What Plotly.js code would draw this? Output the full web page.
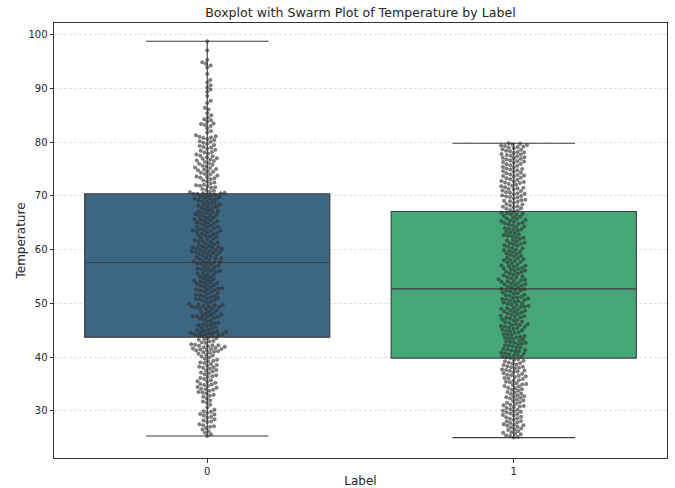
<!DOCTYPE html>
<html><head><meta charset="utf-8">
<script src="https://cdn.plot.ly/plotly-3.0.1.min.js"></script>
<style>html,body{margin:0;padding:0;background:#fff}#chart{width:675px;height:488px}</style>
</head><body><div id="chart"></div>
<script>
const categories = ['0', '1'];

const temps0 = [
  25.3, 25.6, 25.9, 26.2, 26.8, 27.0, 27.1, 27.3, 27.5, 27.9, 28.2, 28.4, 28.7, 28.9, 29.1, 29.3, 29.4, 29.6, 29.8, 29.9, 26.5, 28.0,
  30.2, 30.6, 31.1, 31.5, 31.9, 32.3, 32.6, 32.8, 33.0, 33.2, 33.5, 33.7, 33.9, 34.0, 34.1, 34.3, 34.4, 34.6, 34.8, 34.9, 31.7, 33.4,
  35.0, 35.2, 35.4, 35.5, 35.7, 35.9, 36.1, 36.3, 36.4, 36.6, 36.8, 37.0, 37.1, 37.3, 37.5, 37.6, 37.8, 38.0, 38.1, 38.2,
  38.4, 38.5, 38.7, 38.9, 39.0, 39.2, 39.3, 39.5, 39.7, 39.9,
  40.1, 40.3, 40.4, 40.6, 40.8, 40.9, 41.0, 41.1, 41.2, 41.3, 41.4, 41.5, 41.6, 41.7, 41.8, 41.9, 42.0, 42.1, 42.2, 42.3,
  42.4, 42.6, 42.7, 42.9, 43.0, 43.2, 43.3, 43.5, 43.6, 43.8, 43.9, 44.0, 44.1, 44.2, 44.3, 44.4, 44.5, 44.5, 44.6, 44.7,
  44.8, 44.9, 41.5, 42.2, 44.3,
  45.0, 45.1, 45.3, 45.4, 45.6, 45.8, 45.9, 46.1, 46.3, 46.4, 46.6, 46.8, 47.0, 47.1, 47.3, 47.4, 47.5, 47.6, 47.7, 47.8,
  47.9, 48.1, 48.2, 48.4, 48.5, 48.7, 48.9, 49.0, 49.1, 49.2, 49.3, 49.4, 49.5, 49.6, 49.7, 49.8, 49.9, 47.6, 49.4, 46.0,
  50.1, 50.3, 50.4, 50.6, 50.7, 50.9, 51.0, 51.2, 51.3, 51.5, 51.6, 51.8, 51.9, 52.1, 52.2, 52.4, 52.5, 52.6, 52.7, 52.8,
  53.0, 53.1, 53.3, 53.4, 53.6, 53.8, 53.9, 54.1, 54.2, 54.4, 54.5, 54.7, 54.9, 52.6, 50.8, 53.5, 54.0, 51.4,
  55.0, 55.2, 55.3, 55.5, 55.6, 55.8, 55.9, 56.0, 56.2, 56.3, 56.5, 56.6, 56.8, 56.9, 57.0, 57.2, 57.3, 57.4, 57.5, 57.7,
  57.8, 57.9, 58.1, 58.2, 58.3, 58.5, 58.6, 58.8, 58.9, 59.0, 59.2, 59.3, 59.4, 59.5, 59.6, 59.7, 59.8, 59.9, 59.5, 57.6, 56.1, 58.4,
  60.0, 60.1, 60.2, 60.2, 60.3, 60.4, 60.5, 60.7, 60.8, 61.0, 61.1, 61.3, 61.4, 61.6, 61.7, 61.9, 62.0, 62.2, 62.3, 62.5,
  62.6, 62.8, 63.0, 63.1, 63.3, 63.4, 63.5, 63.6, 63.7, 63.9, 64.0, 64.2, 64.3, 64.5, 64.6, 64.8, 64.9, 63.5, 61.5, 62.7, 60.6, 64.1,
  65.0, 65.1, 65.3, 65.4, 65.6, 65.7, 65.9, 66.0, 66.2, 66.3, 66.5, 66.6, 66.8, 66.9, 67.1, 67.2, 67.4, 67.5, 67.7, 67.8,
  68.0, 68.1, 68.3, 68.4, 68.6, 68.7, 68.9, 69.0, 69.2, 69.3, 69.5, 69.6, 69.7, 69.8, 69.9, 66.4, 68.2, 69.4, 67.0, 65.5,
  70.1, 70.2, 70.3, 70.4, 70.4, 70.5, 70.5, 70.6, 70.7, 70.8, 70.9, 71.1, 71.3, 71.5, 71.6, 71.8, 72.0, 72.1, 72.3, 72.5,
  72.7, 72.9, 73.1, 73.3, 73.5, 73.6, 73.8, 74.0, 74.1, 74.3, 74.5, 74.6, 74.8, 74.9, 71.9, 73.4,
  75.0, 75.2, 75.3, 75.5, 75.6, 75.8, 76.0, 76.1, 76.3, 76.5, 76.6, 76.8, 77.0, 77.2, 77.4, 77.5, 77.7, 77.9, 78.1, 78.2,
  78.4, 78.6, 78.8, 79.0, 79.1, 79.3, 79.5, 79.7, 79.9, 76.9,
  80.1, 80.2, 80.4, 80.6, 80.8, 80.9, 81.0, 81.1, 81.3, 81.8, 82.1, 82.6, 83.0, 83.2, 83.4, 83.5, 83.8, 84.1, 84.3, 84.6,
  85.0, 85.4, 86.1, 86.4, 87.3, 87.7, 88.6, 89.4, 89.8,
  90.2, 90.6, 91.1, 91.6, 92.7, 93.9, 94.3, 94.6, 94.9,
  95.3, 97.1, 98.8
];

const temps1 = [
  25.0, 25.1, 25.3, 25.4, 25.6, 25.7, 25.9, 26.0, 26.2, 26.4, 26.5, 26.7, 26.9, 27.0, 27.2, 27.3, 27.5, 27.7, 27.8, 28.0,
  28.1, 28.3, 28.5, 28.6, 28.8, 28.9, 29.1, 29.2, 29.4, 29.5, 29.7, 29.8, 29.9, 27.4,
  30.0, 30.2, 30.3, 30.5, 30.7, 30.8, 31.0, 31.1, 31.3, 31.5, 31.6, 31.8, 31.9, 32.1, 32.3, 32.4, 32.6, 32.7, 32.9, 33.1,
  33.2, 33.4, 33.5, 33.7, 33.9, 34.0, 34.2, 34.3, 34.5, 34.6, 34.8, 34.9, 32.5, 30.9,
  35.0, 35.1, 35.3, 35.4, 35.6, 35.7, 35.9, 36.0, 36.1, 36.3, 36.4, 36.6, 36.7, 36.9, 37.0, 37.2, 37.3, 37.4, 37.6, 37.7,
  37.9, 38.0, 38.2, 38.3, 38.5, 38.6, 38.8, 38.9, 39.0, 39.2, 39.3, 39.5, 39.6, 39.8, 39.9, 36.5, 38.1, 37.5,
  40.0, 40.1, 40.3, 40.4, 40.6, 40.7, 40.8, 41.0, 41.1, 41.3, 41.4, 41.5, 41.7, 41.8, 42.0, 42.1, 42.2, 42.4, 42.5, 42.7,
  42.8, 42.9, 43.1, 43.2, 43.4, 43.5, 43.6, 43.8, 43.9, 44.1, 44.2, 44.3, 44.5, 44.6, 44.8, 44.9, 41.2, 42.6, 43.7, 40.5,
  45.0, 45.1, 45.2, 45.4, 45.5, 45.7, 45.8, 45.9, 46.1, 46.2, 46.4, 46.5, 46.6, 46.8, 46.9, 47.0, 47.2, 47.3, 47.5, 47.6,
  47.7, 47.9, 48.0, 48.1, 48.3, 48.4, 48.6, 48.7, 48.8, 49.0, 49.1, 49.2, 49.4, 49.5, 49.7, 49.8, 49.9, 46.0, 47.4, 48.5, 49.3, 45.6,
  50.0, 50.1, 50.3, 50.4, 50.5, 50.7, 50.8, 50.9, 51.1, 51.2, 51.4, 51.5, 51.6, 51.8, 51.9, 52.0, 52.2, 52.3, 52.5, 52.6,
  52.7, 52.9, 53.0, 53.1, 53.3, 53.4, 53.6, 53.7, 53.8, 54.0, 54.1, 54.2, 54.4, 54.5, 54.7, 54.8, 54.9, 51.0, 52.4, 53.5, 54.3, 50.6,
  55.0, 55.2, 55.3, 55.5, 55.6, 55.8, 56.0, 56.1, 56.3, 56.4, 56.6, 56.8, 56.9, 57.1, 57.2, 57.4, 57.6, 57.7, 57.9, 58.0,
  58.2, 58.4, 58.5, 58.7, 58.8, 59.0, 59.2, 59.3, 59.5, 59.6, 59.8, 59.9, 57.0, 58.1, 56.5, 55.9,
  60.0, 60.2, 60.3, 60.5, 60.7, 60.8, 61.0, 61.2, 61.3, 61.5, 61.7, 61.8, 62.0, 62.2, 62.3, 62.5, 62.7, 62.8, 63.0, 63.2,
  63.3, 63.5, 63.7, 63.8, 64.0, 64.2, 64.3, 64.5, 64.7, 64.8, 64.9, 61.1, 62.6, 63.9,
  65.0, 65.2, 65.3, 65.5, 65.7, 65.8, 66.0, 66.1, 66.3, 66.5, 66.6, 66.8, 66.9, 67.1, 67.3, 67.4, 67.6, 67.7, 67.9, 68.1,
  68.2, 68.4, 68.5, 68.7, 68.9, 69.0, 69.2, 69.3, 69.5, 69.7, 69.8, 69.9, 66.7, 68.0, 65.4, 69.1,
  70.0, 70.1, 70.3, 70.4, 70.6, 70.7, 70.9, 71.0, 71.2, 71.3, 71.5, 71.6, 71.8, 71.9, 72.1, 72.2, 72.4, 72.5, 72.7, 72.8,
  73.0, 73.1, 73.3, 73.4, 73.6, 73.7, 73.9, 74.0, 74.2, 74.3, 74.5, 74.6, 74.8, 74.9, 71.4, 72.6, 73.8, 70.5,
  75.0, 75.1, 75.3, 75.4, 75.6, 75.7, 75.9, 76.0, 76.2, 76.3, 76.5, 76.6, 76.8, 76.9, 77.1, 77.2, 77.4, 77.5, 77.7, 77.8,
  78.0, 78.1, 78.3, 78.4, 78.6, 78.7, 78.9, 79.0, 79.2, 79.3, 79.4, 79.5, 79.6, 79.7, 79.8, 77.0, 78.2, 76.4, 79.1, 77.6
];

// box statistics
const boxQ1 = [43.7, 39.8];
const boxMedian = [57.6, 52.7];
const boxQ3 = [70.4, 67.1];
const boxLow = [25.3, 25.0];
const boxHigh = [98.8, 79.8];
const boxColors = ['rgb(61,102,130)', 'rgb(69,167,120)'];

const yTicks = [30, 40, 50, 60, 70, 80, 90, 100];

const FIG_W = 675, FIG_H = 488;
const M = {l: 54, r: 8, t: 23, b: 30};
const yRange = [21.2, 102.2];
const xRange = [-0.5, 1.5];
const pxPerY = (FIG_H - M.t - M.b) / (yRange[1] - yRange[0]);
const pxPerX = (FIG_W - M.l - M.r) / (xRange[1] - xRange[0]);
const DOT = 4.0;

function swarmOffsets(vals) {
  const order = vals.map((v, i) => i).sort((a, b) => vals[a] - vals[b]);
  const placed = [];
  const off = new Array(vals.length);
  for (const i of order) {
    const y = vals[i] * pxPerY;
    const nb = placed.filter(p => Math.abs(p.y - y) < DOT);
    const cands = [0];
    nb.forEach(p => {
      const dx = Math.sqrt(DOT * DOT - (p.y - y) * (p.y - y));
      cands.push(p.x + dx, p.x - dx);
    });
    cands.sort((a, b) => Math.abs(a) - Math.abs(b));
    let x = 0;
    for (const c of cands) {
      if (nb.every(p => (p.x - c) * (p.x - c) + (p.y - y) * (p.y - y) >= DOT * DOT - 1e-6)) { x = c; break; }
    }
    placed.push({x, y});
    off[i] = x / pxPerX;
  }
  return off;
}

const series = [temps0, temps1];
const traces = [];
series.forEach((vals, k) => {
  traces.push({
    type: 'box', x: [k], q1: [boxQ1[k]], median: [boxMedian[k]], q3: [boxQ3[k]],
    lowerfence: [boxLow[k]], upperfence: [boxHigh[k]],
    width: 0.8, whiskerwidth: 0.5, fillcolor: boxColors[k],
    line: {color: 'rgb(62,62,62)', width: 1.1},
    boxpoints: false, hoverinfo: 'skip', showlegend: false
  });
});
series.forEach((vals, k) => {
  const off = swarmOffsets(vals);
  traces.push({
    type: 'scatter', mode: 'markers',
    x: vals.map((v, i) => k + off[i]), y: vals,
    marker: {size: 3.5, color: 'rgba(50,50,50,0.62)', line: {width: 0.4, color: 'rgba(40,40,40,0.7)'}},
    hoverinfo: 'y', showlegend: false
  });
});

const layout = {
  width: FIG_W, height: FIG_H,
  margin: M,
  paper_bgcolor: '#ffffff', plot_bgcolor: '#ffffff',
  font: {family: 'DejaVu Sans, sans-serif', color: '#262626', size: 10},
  title: {text: 'Boxplot with Swarm Plot of Temperature by Label', x: 0.5, xref: 'paper',
          y: 1 - 13 / FIG_H, yref: 'container', yanchor: 'middle', font: {size: 12.6, color: '#262626'}},
  boxmode: 'overlay',
  xaxis: {
    range: xRange, tickvals: [0, 1], ticktext: categories,
    showgrid: false, zeroline: false, showline: true, mirror: true, linecolor: '#333333', linewidth: 1,
    ticks: 'outside', ticklen: 3.5, tickcolor: '#333333',
    title: {text: 'Label', font: {size: 12, color: '#262626'}, standoff: 7}
  },
  yaxis: {
    range: yRange, tickvals: yTicks,
    showgrid: true, gridcolor: 'rgba(0,0,0,0.2)', griddash: '3px,2px', gridwidth: 0.6,
    zeroline: false, showline: true, mirror: true, linecolor: '#333333', linewidth: 1,
    ticks: 'outside', ticklen: 3.5, tickcolor: '#333333',
    title: {text: 'Temperature', font: {size: 12, color: '#262626'}, standoff: 0}
  }
};

Plotly.newPlot('chart', traces, layout, {displayModeBar: false, staticPlot: true});
</script>
</body></html>
